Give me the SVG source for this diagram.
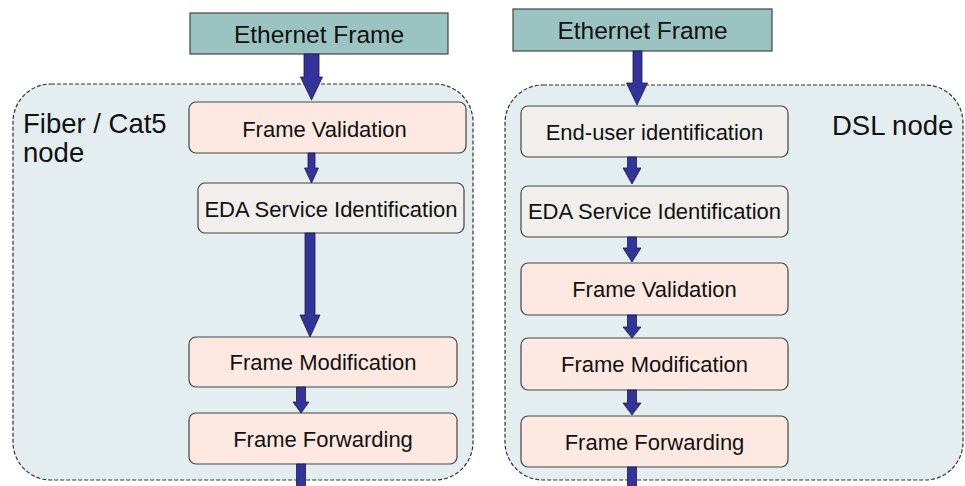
<svg xmlns="http://www.w3.org/2000/svg" width="965" height="486" viewBox="0 0 965 486">
<style>
.bg{fill:#ffffff}
.cont{fill:#e4eef0;stroke:#333;stroke-width:1.2;stroke-dasharray:4 2}
.eth{fill:#9bc3c1;stroke:#444;stroke-width:1.2}
.pink{fill:#fde9e2;stroke:#444;stroke-width:1.2}
.grey{fill:#f0efec;stroke:#444;stroke-width:1.2}
text{font-family:"Liberation Sans",Arial,sans-serif;fill:#111}
.t{font-size:22px;text-anchor:middle}
.te{font-size:24.5px;text-anchor:middle}
.lbl{font-size:27.5px}
.arr{fill:#333399;stroke:#1a1a4d;stroke-width:0.8}
</style>
<rect class="bg" x="0" y="0" width="965" height="486"/>
<g id="fiber-node">
<rect class="cont" x="13" y="84" width="460" height="396" rx="38"/>
<text class="lbl" x="23" y="133">Fiber / Cat5</text>
<text class="lbl" x="23" y="162">node</text>
</g>
<g id="dsl-node">
<rect class="cont" x="505" y="85" width="458" height="395" rx="38"/>
<text class="lbl" x="832" y="135">DSL node</text>
</g>
<g id="l-eth"><rect class="eth" x="190" y="13" width="258" height="41"/><text class="te" x="319" y="43">Ethernet Frame</text></g>
<g id="l-val"><rect class="pink" x="189" y="102" width="277" height="51" rx="7"/><text class="t" x="324.5" y="136.5">Frame Validation</text></g>
<g id="l-eda"><rect class="grey" x="198" y="183" width="266" height="50" rx="7"/><text class="t" x="331" y="216.5">EDA Service Identification</text></g>
<g id="l-mod"><rect class="pink" x="189" y="337" width="268" height="50" rx="7"/><text class="t" x="323" y="370">Frame Modification</text></g>
<g id="l-fwd"><rect class="pink" x="189" y="413" width="268" height="51" rx="7"/><text class="t" x="323" y="447">Frame Forwarding</text></g>
<g id="r-eth"><rect class="eth" x="513" y="9" width="259" height="42"/><text class="te" x="642.5" y="39">Ethernet Frame</text></g>
<g id="r-eu"><rect class="grey" x="521" y="106" width="267" height="51" rx="7"/><text class="t" x="654.5" y="140">End-user identification</text></g>
<g id="r-eda"><rect class="grey" x="521" y="186" width="267" height="51" rx="7"/><text class="t" x="654.5" y="219">EDA Service Identification</text></g>
<g id="r-val"><rect class="pink" x="521" y="263" width="267" height="52" rx="7"/><text class="t" x="654.5" y="297">Frame Validation</text></g>
<g id="r-mod"><rect class="pink" x="521" y="338" width="267" height="52" rx="7"/><text class="t" x="654.5" y="372">Frame Modification</text></g>
<g id="r-fwd"><rect class="pink" x="521" y="416" width="267" height="51" rx="7"/><text class="t" x="654.5" y="450">Frame Forwarding</text></g>
<g id="connectors">
<polygon class="arr" points="304,54 319,54 319,77 322.5,77 311.5,100 300.5,77 304,77"/>
<polygon class="arr" points="308,153 315,153 315,168 318.5,168 311.5,183 304.5,168 308,168"/>
<polygon class="arr" points="305,233 315,233 315,315 320,315 310,337 300,315 305,315"/>
<polygon class="arr" points="296.5,387 305.5,387 305.5,402 309,402 301,413 293,402 296.5,402"/>
<polygon class="arr" points="296.5,464 305.5,464 305.5,490 296.5,490"/>
<polygon class="arr" points="633,51 642,51 642,83 647.5,83 637,105 626.5,83 633,83"/>
<polygon class="arr" points="627.5,157 636.5,157 636.5,168 641,168 632,184 623,168 627.5,168"/>
<polygon class="arr" points="627.5,237 636.5,237 636.5,248 641,248 632,262 623,248 627.5,248"/>
<polygon class="arr" points="627.5,315 636.5,315 636.5,327 641,327 632,338 623,327 627.5,327"/>
<polygon class="arr" points="627.5,390 636.5,390 636.5,403 641,403 632,415 623,403 627.5,403"/>
<polygon class="arr" points="627.5,467 636.5,467 636.5,490 627.5,490"/>
</g>
</svg>
